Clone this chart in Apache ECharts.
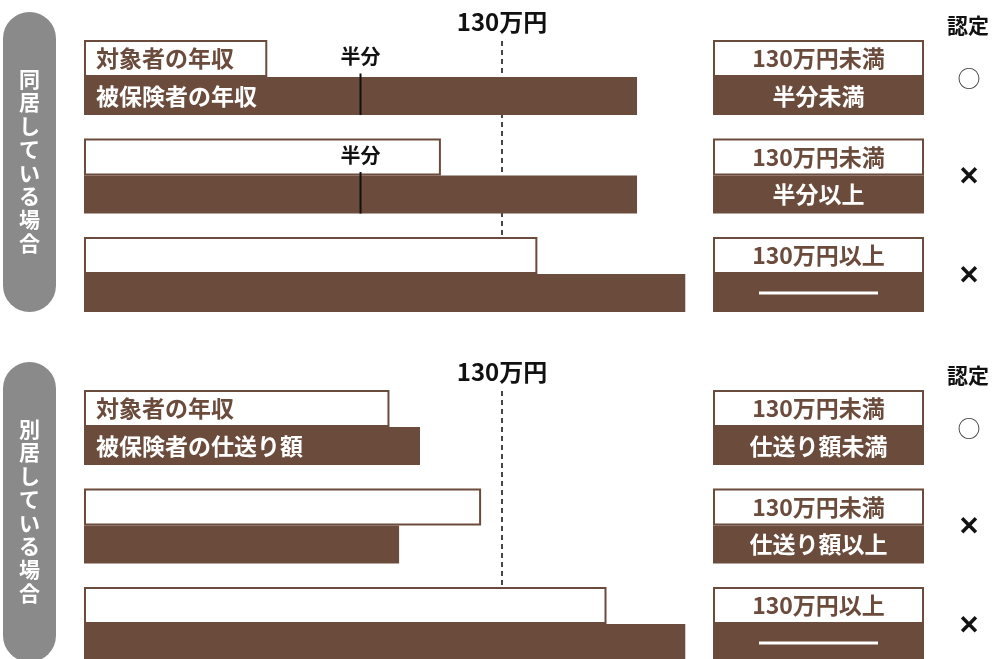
<!DOCTYPE html>
<html>
<head>
<meta charset="utf-8">
<script src="https://cdn.jsdelivr.net/npm/echarts@6/dist/echarts.min.js"></script>
<style>
html,body{margin:0;padding:0;background:#ffffff;}
#chart{width:995px;height:659px;}
</style>
</head>
<body>
<div id="chart"></div>
<script>
// ---------- data ----------
const rowKeys = ['case1', 'case2', 'case3'];
const panelTitles = ['同居している場合', '別居している場合'];
const thresholdValue = 130;            // 万円
const thresholdLabel = '130万円';
const halfLabel = '半分';
const verdictHeader = '認定';

// 同居: 対象者の年収 / 被保険者の年収 (万円)
const targetIncomeLiving = [57, 111, 141];
const insuredIncomeLiving = [172, 172, 187];
// 別居: 対象者の年収 / 被保険者の仕送り額
const targetIncomeApart = [95, 123.5, 162.5];
const insuredAllowanceApart = [104.5, 98, 187];

const halfMarkRowsLiving = [0, 1];

const targetBarLabels = ['対象者の年収', '対象者の年収'];
const insuredBarLabels = ['被保険者の年収', '被保険者の仕送り額'];

const targetConditions = ['130万円未満', '130万円未満', '130万円以上'];
const insuredConditionsLiving = ['半分未満', '半分以上', ''];
const insuredConditionsApart = ['仕送り額未満', '仕送り額以上', ''];
const verdicts = ['○', '×', '×'];

// ---------- style ----------
const BROWN = '#6b4b3b';
const GRAY = '#8a8a8a';
const FONT = '"Noto Sans CJK JP", "Noto Sans", sans-serif';
const WHITE_H = 37, BROWN_H = 38;

const chart = echarts.init(document.getElementById('chart'), null, {renderer: 'canvas'});

const gridTops = [28.25, 378.25];
const BAND = 98.5;
const grids = [], xAxes = [], yAxes = [], series = [];

function addGrid(left, width, top) {
  grids.push({left: left, top: top, width: width, height: BAND * rowKeys.length,
              outerBoundsMode: 'none', containLabel: false});
  return grids.length - 1;
}

function addPanel(p, target, insured, targetLabel, insuredLabel, insuredConds, halfRows) {
  const top = gridTops[p];

  // ---- bars grid ----
  const gBar = addGrid(84, 200 * 418 / 130, top);
  xAxes.push({gridIndex: gBar, type: 'value', min: 0, max: 200, show: false});
  yAxes.push({gridIndex: gBar, type: 'category', data: rowKeys, inverse: true, show: false});

  // threshold dashed line (behind bars) with its label
  series.push({
    type: 'custom', xAxisIndex: gBar, yAxisIndex: gBar, z: 1, silent: true, animation: false,
    encode: {x: 0, y: 1},
    data: [[thresholdValue, 0, rowKeys.length - 1]],
    renderItem: (params, api) => {
      const a = api.coord([api.value(0), api.value(1)]);
      const b = api.coord([api.value(0), api.value(2)]);
      const y0 = a[1] - (WHITE_H + BROWN_H) / 2;
      return {type: 'group', children: [
        {type: 'line', shape: {x1: a[0], y1: y0 + 1, x2: a[0], y2: b[1]},
         style: {stroke: '#1a1a1a', lineWidth: 1.6, lineDash: [5, 4]}},
        {type: 'text', style: {text: thresholdLabel, x: a[0], y: y0 - 18, align: 'center', verticalAlign: 'middle',
          fontSize: 24, fontWeight: 'bold', fontFamily: FONT, fill: '#111'}}
      ]};
    }
  });

  // 対象者 (white bars)
  series.push({
    type: 'bar', xAxisIndex: gBar, yAxisIndex: gBar, barWidth: WHITE_H, barGap: 0, z: 3, silent: true, animation: false,
    data: target,
    itemStyle: {color: '#ffffff', borderColor: BROWN, borderWidth: 2},
    label: {show: true, position: 'insideLeft', distance: 12, color: BROWN, fontSize: 23, fontWeight: 'bold', fontFamily: FONT,
      formatter: (q) => q.dataIndex === 0 ? targetLabel : ''}
  });
  // 被保険者 (brown bars)
  series.push({
    type: 'bar', xAxisIndex: gBar, yAxisIndex: gBar, barWidth: BROWN_H, barGap: 0, z: 3, silent: true, animation: false,
    data: insured,
    itemStyle: {color: BROWN},
    label: {show: true, position: 'insideLeft', distance: 12, color: '#ffffff', fontSize: 23, fontWeight: 'bold', fontFamily: FONT,
      formatter: (q) => q.dataIndex === 0 ? insuredLabel : ''}
  });

  // 半分 markers
  if (halfRows.length) {
    series.push({
      type: 'custom', xAxisIndex: gBar, yAxisIndex: gBar, z: 5, silent: true, animation: false,
      encode: {x: 0, y: 1},
      data: halfRows.map(i => [insured[i] / 2, i]),
      renderItem: (params, api) => {
        const c = api.coord([api.value(0), api.value(1)]);
        return {type: 'group', children: [
          {type: 'line', shape: {x1: c[0], y1: c[1] - 4, x2: c[0], y2: c[1] + BROWN_H - 0.5},
           style: {stroke: '#111', lineWidth: 2}},
          {type: 'text', style: {text: halfLabel, x: c[0], y: c[1] - 21, align: 'center', verticalAlign: 'middle',
            fontSize: 20, fontWeight: 'bold', fontFamily: FONT, fill: '#111'}}
        ]};
      }
    });
  }

  // ---- condition boxes grid ----
  const gBox = addGrid(713, 211, top);
  xAxes.push({gridIndex: gBox, type: 'value', min: 0, max: 1, show: false});
  yAxes.push({gridIndex: gBox, type: 'category', data: rowKeys, inverse: true, show: false});
  series.push({
    type: 'bar', xAxisIndex: gBox, yAxisIndex: gBox, barWidth: WHITE_H, barGap: 0, z: 3, silent: true, animation: false,
    data: targetConditions.map(() => 1),
    itemStyle: {color: '#ffffff', borderColor: BROWN, borderWidth: 2},
    label: {show: true, position: 'inside', color: BROWN, fontSize: 23, fontWeight: 'bold', fontFamily: FONT,
      formatter: (q) => targetConditions[q.dataIndex]}
  });
  series.push({
    type: 'bar', xAxisIndex: gBox, yAxisIndex: gBox, barWidth: BROWN_H, barGap: 0, z: 3, silent: true, animation: false,
    data: insuredConds.map(() => 1),
    itemStyle: {color: BROWN},
    label: {show: true, position: 'inside', color: '#ffffff', fontSize: 23, fontWeight: 'bold', fontFamily: FONT,
      formatter: (q) => insuredConds[q.dataIndex] || '{dash| }',
      rich: {dash: {width: 119, height: 3, lineHeight: 3, fontSize: 2, backgroundColor: '#ffffff'}}}
  });

  // ---- verdict column grid ----
  const gV = addGrid(946, 44, top);
  xAxes.push({
    gridIndex: gV, type: 'category', data: [verdictHeader], position: 'top',
    axisLine: {show: false}, axisTick: {show: false}, splitLine: {show: false},
    axisLabel: {interval: 0, margin: 3, verticalAlign: 'middle', fontSize: 21, fontWeight: 'bold', fontFamily: FONT, color: '#111'}
  });
  yAxes.push({gridIndex: gV, type: 'category', data: rowKeys, inverse: true, show: false});
  series.push({
    type: 'custom', xAxisIndex: gV, yAxisIndex: gV, z: 4, silent: true, animation: false,
    encode: {x: 0, y: 1},
    data: verdicts.map((v, i) => [0, i]),
    renderItem: (params, api) => {
      const c = api.coord([api.value(0), api.value(1)]);
      const v = verdicts[params.dataIndex];
      const isCross = v === '×';
      return {type: 'text', style: {text: v, x: c[0] + 1, y: c[1] + (isCross ? -1 : 1), align: 'center', verticalAlign: 'middle',
        fontSize: isCross ? 22 : 23, fontWeight: isCross ? 'bold' : 'normal', fontFamily: FONT,
        fill: isCross ? '#111' : '#333', stroke: isCross ? '#111' : null, lineWidth: isCross ? 1.3 : 0}};
    }
  });
}

addPanel(0, targetIncomeLiving, insuredIncomeLiving, targetBarLabels[0], insuredBarLabels[0], insuredConditionsLiving, halfMarkRowsLiving);
addPanel(1, targetIncomeApart, insuredAllowanceApart, targetBarLabels[1], insuredBarLabels[1], insuredConditionsApart, []);

const pillTops = [12, 362];
const graphic = [];
panelTitles.forEach((t, i) => {
  graphic.push({type: 'rect', shape: {x: 3, y: pillTops[i], width: 53, height: 300, r: 26.5}, style: {fill: GRAY}, silent: true, z: 0});
  graphic.push({type: 'text', x: 29.5, y: pillTops[i] + 149, silent: true, z: 1,
    style: {text: t.split('').join('\n'), align: 'center', verticalAlign: 'middle', lineHeight: 23.4,
      fontSize: 21, fontWeight: 'bold', fontFamily: FONT, fill: '#ffffff'}});
});

chart.setOption({
  animation: false,
  backgroundColor: '#ffffff',
  grid: grids,
  xAxis: xAxes,
  yAxis: yAxes,
  series: series,
  graphic: graphic
});
</script>
</body>
</html>
